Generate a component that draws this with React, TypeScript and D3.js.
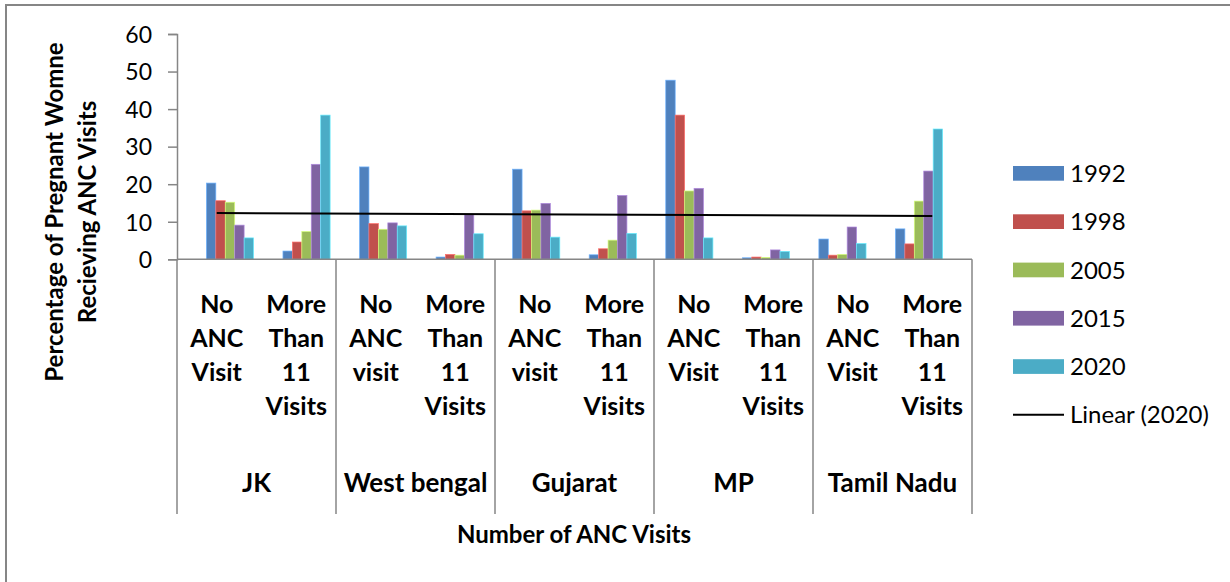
import React from 'react';
import * as d3 from 'd3';

const states = ['JK', 'West bengal', 'Gujarat', 'MP', 'Tamil Nadu'];
const visitLabels = [
  ['No', 'ANC', 'Visit'], ['More', 'Than', '11', 'Visits'],
  ['No', 'ANC', 'visit'], ['More', 'Than', '11', 'Visits'],
  ['No', 'ANC', 'visit'], ['More', 'Than', '11', 'Visits'],
  ['No', 'ANC', 'Visit'], ['More', 'Than', '11', 'Visits'],
  ['No', 'ANC', 'Visit'], ['More', 'Than', '11', 'Visits'],
];
const years = ['1992', '1998', '2005', '2015', '2020'];
const v1992 = [20.3, 2.2, 24.6, 0.6, 24.0, 1.2, 47.7, 0.4, 5.4, 8.1];
const v1998 = [15.6, 4.6, 9.5, 1.3, 12.9, 2.8, 38.4, 0.6, 1.1, 4.1];
const v2005 = [15.2, 7.4, 8.0, 1.1, 13.1, 5.1, 18.2, 0.5, 1.3, 15.5];
const v2015 = [9.1, 25.3, 9.7, 12.0, 14.9, 17.0, 18.9, 2.5, 8.6, 23.5];
const v2020 = [5.7, 38.4, 8.9, 6.8, 5.9, 6.9, 5.7, 2.1, 4.2, 34.7];
const yTicks = [0, 10, 20, 30, 40, 50, 60];
const colors = ['#4F81BD', '#C0504D', '#9BBB59', '#8064A2', '#4BACC6'];

const series = [v1992, v1998, v2005, v2015, v2020];

const App = () => {
  const ref = React.useRef<SVGSVGElement>(null);

  React.useEffect(() => {
    const svg = d3.select(ref.current);
    svg.selectAll('*').remove();
    const font = 'Lato, "Open Sans", sans-serif';

    // chart area border (runs off the right and bottom edges)
    svg.append('rect')
      .attr('x', 6).attr('y', 5).attr('width', 1300).attr('height', 700)
      .attr('fill', 'white').attr('stroke', '#868686').attr('stroke-width', 2);

    const left = 177, right = 972, top = 34, bottom = 259.3;
    const idx = d3.range(visitLabels.length);

    const x = d3.scaleBand<number>().domain(idx).range([left, right]).padding(0.384);
    const step = (right - left) / idx.length;
    const xs = d3.scaleBand<number>().domain(d3.range(years.length)).range([0, x.bandwidth()]);
    const y = d3.scaleLinear().domain([0, 60]).range([bottom, top]);
    const center = (i: number) => left + step * (i + 0.5);

    // bars
    series.forEach((vals, s) => {
      svg.append('g').selectAll('rect')
        .data(vals)
        .enter()
        .append('rect')
        .attr('x', (d, i) => x(i)! + xs(s)!)
        .attr('y', d => y(d))
        .attr('width', xs.bandwidth())
        .attr('height', d => y(0) - y(d))
        .attr('fill', colors[s])
        .attr('stroke', d3.color(colors[s])!.brighter(0.9).formatHex())
        .attr('stroke-width', 0.7);
    });

    // y axis
    const yAxis = svg.append('g')
      .attr('transform', `translate(${left},0)`)
      .call(d3.axisLeft(y).tickValues(yTicks).tickSize(9).tickPadding(16));
    yAxis.select('.domain').attr('stroke', '#868686').attr('stroke-width', 1.5);
    yAxis.selectAll('.tick line').attr('stroke', '#868686').attr('stroke-width', 1.5);
    yAxis.selectAll('.tick text')
      .attr('font-family', font).attr('font-size', 23).attr('fill', '#000').attr('dy', '0.36em');

    // x axis line and group separators
    svg.append('line')
      .attr('x1', left).attr('x2', right).attr('y1', bottom).attr('y2', bottom)
      .attr('stroke', '#868686').attr('stroke-width', 1.5);
    svg.selectAll('.sep')
      .data(d3.range(states.length + 1))
      .enter()
      .append('line')
      .attr('x1', d => left + d * step * 2).attr('x2', d => left + d * step * 2)
      .attr('y1', bottom).attr('y2', 514)
      .attr('stroke', '#868686').attr('stroke-width', 1.5);

    // category labels
    idx.forEach(i => {
      const t = svg.append('text')
        .attr('x', center(i)).attr('y', 313)
        .attr('text-anchor', 'middle')
        .attr('font-family', font).attr('font-size', 25).attr('font-weight', 'bold');
      visitLabels[i].forEach((line, k) => {
        t.append('tspan').attr('x', center(i)).attr('y', 313 + k * 34).text(line);
      });
    });

    svg.selectAll('.state')
      .data(states)
      .enter()
      .append('text')
      .attr('x', (d, i) => left + step * (2 * i + 1))
      .attr('y', 492)
      .attr('text-anchor', 'middle')
      .attr('font-family', font).attr('font-size', 26).attr('font-weight', 'bold')
      .text(d => d);

    // linear trend of 2020
    const n = v2020.length;
    const mx = d3.mean(idx)!, my = d3.mean(v2020)!;
    const slope = d3.sum(idx, i => (i - mx) * (v2020[i] - my)) / d3.sum(idx, i => (i - mx) ** 2);
    const fit = (i: number) => my + slope * (i - mx);
    svg.append('line')
      .attr('x1', center(0)).attr('x2', center(n - 1))
      .attr('y1', y(fit(0))).attr('y2', y(fit(n - 1)))
      .attr('stroke', '#000').attr('stroke-width', 2);

    // axis titles
    svg.append('text')
      .attr('x', 574).attr('y', 543)
      .attr('text-anchor', 'middle')
      .attr('font-family', font).attr('font-size', 24).attr('font-weight', 'bold')
      .text('Number of ANC Visits');

    const yt = svg.append('text')
      .attr('transform', 'translate(0,212) rotate(-90)')
      .attr('text-anchor', 'middle')
      .attr('font-family', font).attr('font-size', 24).attr('font-weight', 'bold');
    yt.append('tspan').attr('x', 0).attr('y', 63).text('Percentage of Pregnant Womne');
    yt.append('tspan').attr('x', 0).attr('y', 96).text('Recieving ANC Visits');

    // legend
    const lg = svg.append('g').attr('transform', 'translate(1013,0)');
    years.forEach((yr, i) => {
      const cy = 173.3 + i * 48.3;
      lg.append('rect').attr('x', 0).attr('y', cy - 7.3).attr('width', 51).attr('height', 14.7).attr('fill', colors[i]);
      lg.append('text').attr('x', 57).attr('y', cy).attr('dy', '0.36em')
        .attr('font-family', font).attr('font-size', 24).text(yr);
    });
    const ly = 173.3 + 5 * 48.3;
    lg.append('line').attr('x1', 0).attr('x2', 51).attr('y1', ly).attr('y2', ly)
      .attr('stroke', '#000').attr('stroke-width', 2);
    lg.append('text').attr('x', 57).attr('y', ly).attr('dy', '0.36em')
      .attr('font-family', font).attr('font-size', 24).text('Linear (2020)');
  }, []);

  return (
    <svg ref={ref} width={1230} height={582} style={{ position: 'absolute', left: 0, top: 0 }} />
  );
};

export default App;
